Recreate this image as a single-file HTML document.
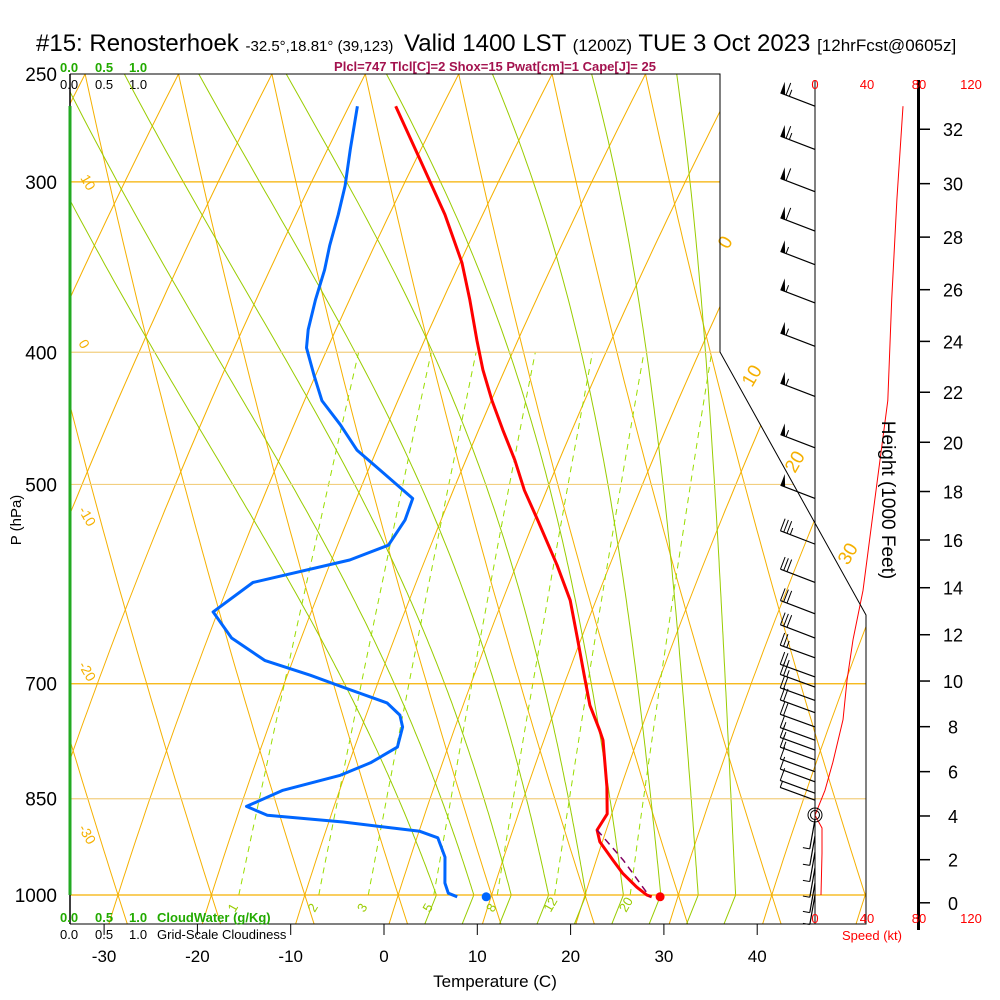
<!DOCTYPE html>
<html><head><meta charset="utf-8"><style>
html,body{margin:0;padding:0;background:#fff;}
svg{display:block;font-family:"Liberation Sans",sans-serif;}
</style></head><body>
<svg id="chart" width="1000" height="1000" viewBox="0 0 1000 1000" xmlns="http://www.w3.org/2000/svg">
<defs><clipPath id="plotclip"><polygon points="70,74 720,74 720,352 866,615 866,924 70,924"/></clipPath></defs>
<g>
<text x="36" y="51" font-size="24">#15: Renosterhoek <tspan font-size="15">-32.5°,18.81° (39,123)</tspan></text>
<text x="404" y="51" font-size="24">Valid 1400 LST <tspan font-size="17">(1200Z)</tspan> TUE 3 Oct 2023 <tspan font-size="17">[12hrFcst@0605z]</tspan></text>
<text x="495" y="71" font-size="13" font-weight="bold" fill="#a3124e" text-anchor="middle">Plcl=747 Tlcl[C]=2 Shox=15 Pwat[cm]=1 Cape[J]= 25</text>
<text x="60" y="72" font-size="13" fill="#22aa00" font-weight="bold">0.0 <tspan x="95">0.5</tspan><tspan x="129">1.0</tspan></text>
<text x="60" y="89" font-size="13">0.0 <tspan x="95">0.5</tspan><tspan x="129">1.0</tspan></text>
</g>
<g id="grid" clip-path="url(#plotclip)"></g>
<g id="series"></g>
<g id="axes"></g>
</svg>
<script>
// ---- data ----
const tempP = [264,289,317,344,366,392,412,434,456,480,505,531,573,608,650,690,726,757,770,833,872,896,914,943,964,987,1000,1003];
const tempT = [-34.1,-29.2,-24.2,-20.3,-17.9,-15.4,-13.5,-11.2,-8.8,-6.2,-3.9,-1.2,2.8,5.7,8.2,10.4,12.3,14.4,15.2,17.6,18.8,18.4,19.2,21.4,23.0,25.1,26.5,27.1];
const dewP = [264,284,302,317,334,348,366,385,397,416,434,452,472,488,512,531,554,568,590,620,648,673,690,704,723,738,753,779,800,817,838,861,874,884,898,908,938,980,997,1003];
const dewT = [-38.2,-37.1,-36.1,-35.6,-35.2,-34.7,-34.4,-33.9,-33.3,-31.3,-29.4,-26.4,-23.5,-20.2,-15.5,-15.4,-16.1,-19.6,-29.0,-32.0,-28.9,-24.4,-18.9,-14.9,-9.5,-7.6,-6.8,-6.5,-8.7,-11.4,-16.9,-20.1,-17.5,-9.1,-0.5,1.7,3.3,4.4,5.2,6.3];
const parcelP = [896,943,1003];
const parcelT = [18.4,22.5,26.9];
const sfcT = 28.0, sfcTd = 9.4, sfcP = 1003;
const speedP = [264,309,366,434,513,598,650,696,744,799,838,874,893,932,1000];
const speedKt = [67.7,63,59,56,46,36.9,29.2,24.6,21.5,13.8,7.7,0,5.4,5.4,4.6];
const barbP = [264,284,305,326,345,368,396,431,470,512,553,590,622,648,670,692,704,720,735,753,770,783,796,812,826,842,852,880,905,930,955,980,1000];
const barbKt = [65,65,60,60,55,55,55,55,55,50,35,30,30,30,25,25,25,20,20,20,15,15,15,10,10,10,5,5,5,5,5,5,5];
const barbDir = [201,201,201,201,201,201,201,201,201,201,201,201,201,201,200,200,200,200,200,200,200,200,200,200,200,200,200,100,100,100,100,100,100];
const mixW = [1,2,3,5,8,12,20];
const moistStart = [4,8,12,16,20,24,28,32,36];
const pLabels = [250,300,400,500,700,850,1000];
const tTicks = [-30,-20,-10,0,10,20,30,40];
const hTicks = [0,2,4,6,8,10,12,14,16,18,20,22,24,26,28,30,32];
const spdTicks = [0,40,80,120];

// ---- scales ----
const yP = p => 895 - 592.3*Math.log(1000/p);
const xT = (T,p) => 399 + 9.35*T + 0.4*(895 - yP(p));
const xTick = T => 384 + 9.33*T;
const xS = s => 815 + 1.3*s;
const hToP = kft => 1013.25*Math.pow(1 - 2.25577e-5*kft*304.8, 5.25588);
const NS = 'http://www.w3.org/2000/svg';
function mk(parent, tag, attrs){const e=document.createElementNS(NS,tag);for(const k in attrs)e.setAttribute(k,attrs[k]);parent.appendChild(e);return e;}
const grid=document.getElementById('grid'), series=document.getElementById('series'), axes=document.getElementById('axes');
const bx = y => y<=352?720:(y<=615?720+(y-352)*146/263:866);

// orange grid families (as drawn in reference)
for(let k=-8;k<16;k++){
  const x0=118+93.4*k;
  let a='',b='';
  for(let y=60;y<=930;y+=10){const d=895-y;
    a+=(a?'L':'M')+(x0+0.32*d+0.0001157*d*d).toFixed(1)+','+y;
    b+=(b?'L':'M')+(x0-0.32*d+0.0000639*d*d).toFixed(1)+','+y;}
  const l1=mk(grid,'path',{d:a,stroke:'#f5b000',fill:'none','stroke-width':1});
  
  
  const l2=mk(grid,'path',{d:b,stroke:'#f5b000',fill:'none','stroke-width':1});
  
  
}
// moist adiabats
function es(Tc){return 6.112*Math.exp(17.67*Tc/(Tc+243.5));}
moistStart.forEach(T0=>{
  let T=T0+273.15, d='';
  const pts=[];
  for(let p=1000;p>=245;p-=5){
    pts.push([xT(T-273.15,p),yP(p)]);
    const e=es(T-273.15), rs=0.622*e/(p-e);
    const dTdp=(287*T+2.5e6*rs)/(p*(1004+2.5e6*2.5e6*rs*0.622/(287*T*T)));
    T-=dTdp*5;
  }
  pts.forEach((q,i)=>d+=(i?'L':'M')+q[0].toFixed(1)+','+q[1].toFixed(1));
  d='M'+(xT(T0,1060)).toFixed(1)+','+yP(1060).toFixed(1)+'L'+d.slice(1);
  const m=mk(grid,'path',{d:d,stroke:'#99cc00',fill:'none','stroke-width':1});
  
  
});
// mixing ratio
mixW.forEach(w=>{
  let d='';
  for(let p=1000;p>=400;p-=20){const e=w*p/(622+w), L=Math.log(e/6.112), Td=243.5*L/(17.67-L);
    d+=(d?'L':'M')+xT(Td,p).toFixed(1)+','+yP(p).toFixed(1);}
  const m=mk(grid,'path',{d:d,stroke:'#99dd00',fill:'none','stroke-width':1,'stroke-dasharray':'6,5'});
  
  
  const e=w*1000/(622+w), L=Math.log(e/6.112), Td=243.5*L/(17.67-L);
  const t=mk(grid,'text',{x:xT(Td,1000)-4,y:913,'font-size':13,fill:'#99cc00',transform:'rotate(-60 '+(xT(Td,1000)-4)+' 913)'});
  t.textContent=w;
  
  
});
// pressure lines
pLabels.slice(1).forEach(p=>{const y=yP(p);
  const l=mk(grid,'line',{x1:70,x2:bx(y),y1:y,y2:y,stroke:(p==400||p==500||p==850)?'#f2cf80':'#f5b000','stroke-width':1.2});
  
  
});
// orange labels
[['10',80,178],['0',78,343],['-10',78,510],['-20',78,665],['-30',78,828]].forEach(a=>{
  const t=mk(grid,'text',{x:a[1],y:a[2],'font-size':14,fill:'#f5b000',transform:'rotate(60 '+a[1]+' '+a[2]+')'});t.textContent=a[0];
  
  });
[['0',728,250],['10',752,388],['20',795,474],['30',848,566]].forEach(a=>{
  const t=mk(axes,'text',{x:a[1],y:a[2],'font-size':19,fill:'#f5b000',transform:'rotate(-60 '+a[1]+' '+a[2]+')'});t.textContent=a[0];
  
  });

// boundary and axes
let a;
a=mk(axes,'polyline',{points:'70,74 720,74 720,352 866,615 866,924 70,924',fill:'none',stroke:'#000','stroke-width':1});

a=mk(axes,'line',{x1:70,x2:70,y1:74,y2:924,stroke:'#000','stroke-width':1.5});
a=mk(axes,'line',{x1:70,x2:70,y1:106,y2:895,stroke:'#22aa22','stroke-width':3});

a=mk(axes,'line',{x1:815,x2:815,y1:80,y2:924,stroke:'#000','stroke-width':1});

a=mk(axes,'line',{x1:918.5,x2:918.5,y1:80,y2:930,stroke:'#000','stroke-width':3});

pLabels.forEach(p=>{const t=mk(axes,'text',{x:57,y:yP(p)+7,'font-size':19,'text-anchor':'end'});t.textContent=p;
  });
tTicks.forEach(T=>{const x=xTick(T);
  mk(axes,'line',{x1:x,x2:x,y1:924,y2:935,stroke:'#000'});
  const t=mk(axes,'text',{x:x,y:962,'font-size':17,'text-anchor':'middle'});t.textContent=T;
  });
hTicks.forEach(h=>{const y=yP(hToP(h));
  mk(axes,'line',{x1:918,x2:930,y1:y,y2:y,stroke:'#000','stroke-width':1.5});
  const t=mk(axes,'text',{x:953,y:y+7,'font-size':18,'text-anchor':'middle'});t.textContent=h;
  });
spdTicks.forEach(s=>{[89,923].forEach(y=>{const t=mk(axes,'text',{x:xS(s),y:y,'font-size':13,fill:'#ff0000','text-anchor':'middle'});t.textContent=s;
  });});
function txt(x,y,s,attrs,name){const t=mk(axes,'text',Object.assign({x:x,y:y},attrs));t.textContent=s;
  return t;}
txt(495,987,'Temperature (C)',{'font-size':17,'text-anchor':'middle'},'x-axis-title');
txt(21,520,'P (hPa)',{'font-size':15,'text-anchor':'middle',transform:'rotate(-90 21 520)'},'y-axis-title');
txt(882,500,'Height (1000 Feet)',{'font-size':19,'text-anchor':'middle',transform:'rotate(90 882 500)'},'height-axis-title');
txt(872,940,'Speed (kt)',{'font-size':13,fill:'#ff0000','text-anchor':'middle'},'speed-axis-title');
txt(60,922,'0.0',{'font-size':13,fill:'#22aa00','font-weight':'bold'},'cloudwater-scale');
txt(95,922,'0.5',{'font-size':13,fill:'#22aa00','font-weight':'bold'},'cloudwater-scale');
txt(129,922,'1.0',{'font-size':13,fill:'#22aa00','font-weight':'bold'},'cloudwater-scale');
txt(157,922,'CloudWater (g/Kg)',{'font-size':13,fill:'#22aa00','font-weight':'bold'},'cloudwater-legend');
txt(60,939,'0.0',{'font-size':13},'cloudiness-scale');
txt(95,939,'0.5',{'font-size':13},'cloudiness-scale');
txt(129,939,'1.0',{'font-size':13},'cloudiness-scale');
txt(157,939,'Grid-Scale Cloudiness',{'font-size':13},'cloudiness-legend');

// profiles
function line(P,V,fx,stroke,w,dash,name){let d='';P.forEach((p,i)=>d+=(i?'L':'M')+fx(V[i],p).toFixed(1)+','+yP(p).toFixed(1));
  const e=mk(series,'path',{d:d,stroke:stroke,fill:'none','stroke-width':w,'stroke-linejoin':'round'});
  if(dash)e.setAttribute('stroke-dasharray',dash);
  }
line(tempP,tempT,xT,'#ff0000',3,null,'temperature-line');
line(dewP,dewT,xT,'#0066ff',3,null,'dewpoint-line');
line(parcelP,parcelT,xT,'#800060',1.5,'7,5','parcel-line');
line(speedP,speedKt,(s,p)=>xS(s),'#ff0000',1,null,'wind-speed-line');
let c=mk(series,'circle',{cx:xT(sfcT,sfcP),cy:yP(sfcP),r:4.5,fill:'#ff0000'});

c=mk(series,'circle',{cx:xT(sfcTd,sfcP),cy:yP(sfcP),r:4.5,fill:'#0066ff'});

c=mk(series,'circle',{cx:815,cy:815,r:7,fill:'none',stroke:'#000'});

mk(series,'circle',{cx:815,cy:815,r:4.5,fill:'none',stroke:'#000'});
// wind barbs
barbP.forEach((p,i)=>{
  const g=mk(series,'g',{});
  
  
  const bxp=815, byp=yP(p), an=barbDir[i]*Math.PI/180, L=barbP[i]>860?30:37;
  const ux=Math.cos(an), uy=Math.sin(an), nx=-uy, ny=ux;
  const tx=bxp+L*ux, ty=byp+L*uy;
  mk(g,'line',{x1:bxp,y1:byp,x2:tx,y2:ty,stroke:'#000','stroke-width':1.2});
  let s=barbKt[i], pos=0;
  while(s>=50){const x1=tx-pos*ux,y1=ty-pos*uy,x2=tx-(pos+5)*ux,y2=ty-(pos+5)*uy;
    mk(g,'polygon',{points:x1+','+y1+' '+x2+','+y2+' '+(x1+12*nx)+','+(y1+12*ny),fill:'#000'});
    pos+=6;s-=50;}
  while(s>=10){const x1=tx-pos*ux,y1=ty-pos*uy;
    mk(g,'line',{x1:x1,y1:y1,x2:x1+13*nx,y2:y1+13*ny,stroke:'#000'});pos+=3.5;s-=10;}
  if(s>=5){const x1=tx-pos*ux,y1=ty-pos*uy;mk(g,'line',{x1:x1,y1:y1,x2:x1+7*nx,y2:y1+7*ny,stroke:'#000'});}
});
</script>
</body></html>
